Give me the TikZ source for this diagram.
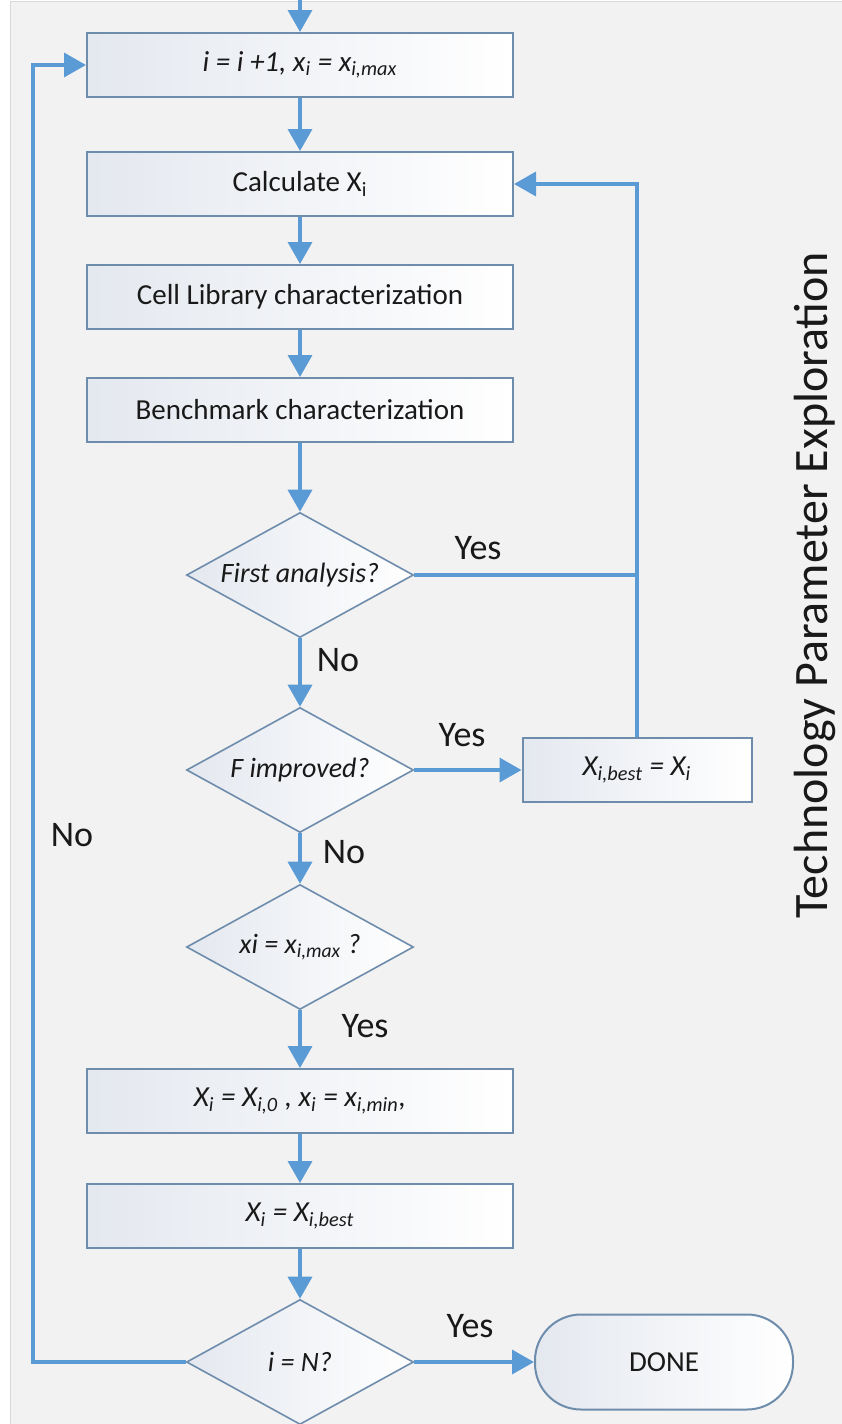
\documentclass[tikz,border=0pt]{standalone}
\usepackage{fontspec}
\setmainfont{Carlito}
\usetikzlibrary{shapes.geometric,arrows.meta}
\definecolor{flowblue}{RGB}{91,155,213}
\definecolor{boxline}{RGB}{110,140,172}
\definecolor{panel}{RGB}{242,242,242}
\definecolor{boxshade}{RGB}{228,232,239}
\definecolor{inktext}{RGB}{25,25,25}

\begin{document}
\begin{tikzpicture}[x=0.5pt,y=-0.5pt,
  proc/.style={draw=boxline,line width=1pt,left color=boxshade,right color=white,
    text=inktext,minimum width=213pt,minimum height=32pt,font=\fontsize{14.5}{16}\selectfont},
  smallproc/.style={proc,minimum width=114.5pt},
  decide/.style={diamond,draw=boxline,line width=0.8pt,left color=boxshade,right color=white,
    text=inktext,aspect=1.8,inner sep=0pt,minimum width=113.5pt,minimum height=62.5pt,
    font=\fontsize{14}{16}\selectfont\itshape},
  terminal/.style={proc,rounded corners=23pt,minimum width=129pt,minimum height=47.5pt},
  answer/.style={text=inktext,font=\fontsize{18}{20}\selectfont},
  flow/.style={draw=flowblue,line width=1.8pt,-{Triangle[length=11pt,width=12pt]}},
  joinline/.style={draw=flowblue,line width=1.8pt}]
% page and panel
\useasboundingbox (0,0) rectangle (841,1424);
\fill[white] (0,0) rectangle (841,1424);
\draw[gray!30,fill=panel] (10,1) rectangle (850,1440);

% process chain
\coordinate (top) at (300,0);
\draw (300,65) node[proc](inc) {\itshape i = i +1, x\textsubscript{i} = x\textsubscript{i,max}};
\draw (300,184) node[proc](calc) {Calculate X\textsubscript{i}};
\draw (300,297) node[proc](cell) {Cell Library characterization};
\draw (300,410) node[proc](bench) {Benchmark characterization};
\draw (300,575) node[decide](first) {First analysis?};
\draw (300,770) node[decide](improved) {F improved?};
\draw (637,770) node[smallproc](best) {\itshape X\textsubscript{i,best} = X\textsubscript{i}};
\draw (300,947) node[decide](atmax) {xi = x\textsubscript{i,max} ?};
\draw (300,1101) node[proc](reset) {\itshape X\textsubscript{i} = X\textsubscript{i,0} , x\textsubscript{i} = x\textsubscript{i,min},};
\draw (300,1216) node[proc](keep) {\itshape X\textsubscript{i} = X\textsubscript{i,best}};
\draw (300,1362) node[decide](last) {i = N?};
\draw (664,1362) node[terminal](done) {DONE};
\coordinate (loopx) at (33,1362);

% answers
\draw (478,548) node[answer](yesfirst) {Yes};
\draw (338,660) node[answer](nofirst) {No};
\draw (462,735) node[answer](yesimp) {Yes};
\draw (344,852) node[answer](noimp) {No};
\draw (365,1026) node[answer](yesmax) {Yes};
\draw (72,835) node[answer](nolast) {No};
\draw (470,1326) node[answer](yeslast) {Yes};
\draw (815,585) node[rotate=90,text=inktext,font=\fontsize{24}{26}\selectfont](title) {Technology Parameter Exploration};

\draw[flow] (top) -- (inc.north);
\draw[flow] (inc.south) -- (calc.north);
\draw[flow] (calc.south) -- (cell.north);
\draw[flow] (cell.south) -- (bench.north);
\draw[flow] (bench.south) -- (first.north);
\draw[flow] (first.south) -- (improved.north);
\draw[flow] (improved.east) -- (best.west);
\draw[flow] (improved.south) -- (atmax.north);
\draw[flow] (atmax.south) -- (reset.north);
\draw[flow] (reset.south) -- (keep.north);
\draw[flow] (keep.south) -- (last.north);
\draw[flow] (last.east) -- (done.west);
\draw[flow] (first.east) -- (first.east -| best.north) |- (calc.east);
\draw[joinline] (best.north) -- (first.east -| best.north);
\draw[flow] (last.west) -- (loopx) |- (inc.west);
\end{tikzpicture}
\end{document}
